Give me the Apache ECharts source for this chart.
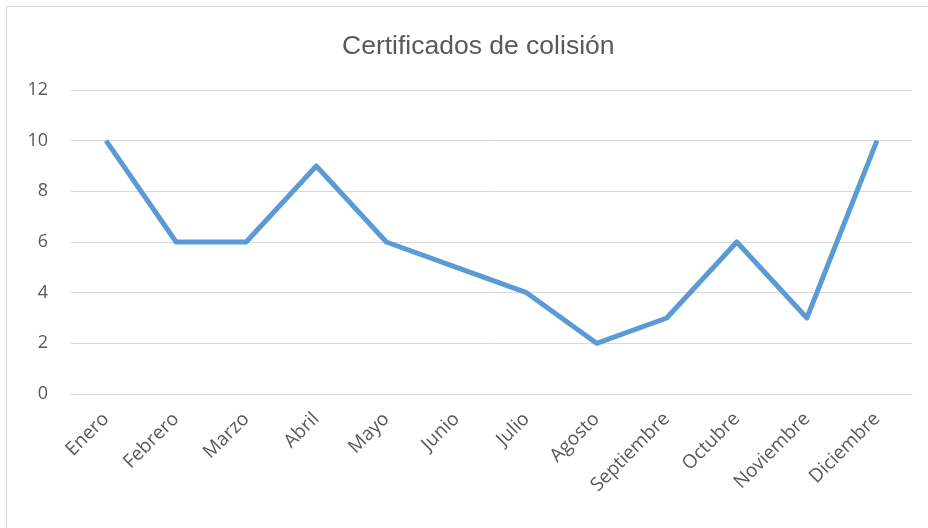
<!DOCTYPE html>
<html lang="es">
<head>
    <meta charset="UTF-8">
    <title>Certificados de colisión</title>
    <script src="https://cdn.jsdelivr.net/npm/echarts@6/dist/echarts.min.js"></script>
    <style>
        html, body { margin: 0; padding: 0; background: #fff; }
        #frame { position: absolute; left: 6px; top: 6px; width: 940px; height: 540px;
                 border-left: 1px solid #d9d9d9; border-top: 1px solid #d9d9d9; }
        #main { position: absolute; left: 0; top: 0; width: 928px; height: 528px; }
    </style>
</head>
<body>
    <div id="frame"></div>
    <div id="main"></div>
    <script>
        // datos
        var meses = ['Enero', 'Febrero', 'Marzo', 'Abril', 'Mayo', 'Junio', 'Julio',
            'Agosto', 'Septiembre', 'Octubre', 'Noviembre', 'Diciembre'];
        var certificados = [10, 6, 6, 9, 6, 5, 4, 2, 3, 6, 3, 10];

        var chart = echarts.init(document.getElementById('main'));
        var option = {
            animation: false,
            title: {
                text: 'Certificados de colisión',
                left: 337,
                top: 28,
                textStyle: {
                    color: '#595959',
                    fontSize: 26.5,
                    fontWeight: 'normal',
                    fontFamily: 'Liberation Sans'
                }
            },
            grid: {
                left: 71,
                right: 16,
                top: 90,
                bottom: 134
            },
            xAxis: {
                type: 'category',
                data: meses,
                boundaryGap: true,
                axisLine: { lineStyle: { color: '#d9d9d9', width: 1 } },
                axisTick: { show: false },
                axisLabel: {
                    rotate: 45,
                    color: '#595959',
                    fontSize: 19,
                    fontFamily: 'Open Sans',
                    margin: 22,
                    interval: 0
                }
            },
            yAxis: {
                type: 'value',
                min: 0,
                max: 12,
                interval: 2,
                axisLine: { show: false },
                axisTick: { show: false },
                splitLine: { lineStyle: { color: '#d9d9d9', width: 1 } },
                axisLabel: {
                    color: '#595959',
                    fontSize: 18,
                    fontFamily: 'Open Sans',
                    margin: 23
                }
            },
            series: [
                {
                    name: 'Certificados',
                    type: 'line',
                    data: certificados,
                    symbol: 'none',
                    lineStyle: { color: '#5b9bd5', width: 5, join: 'round' }
                }
            ]
        };
        chart.setOption(option);
    </script>
</body>
</html>
